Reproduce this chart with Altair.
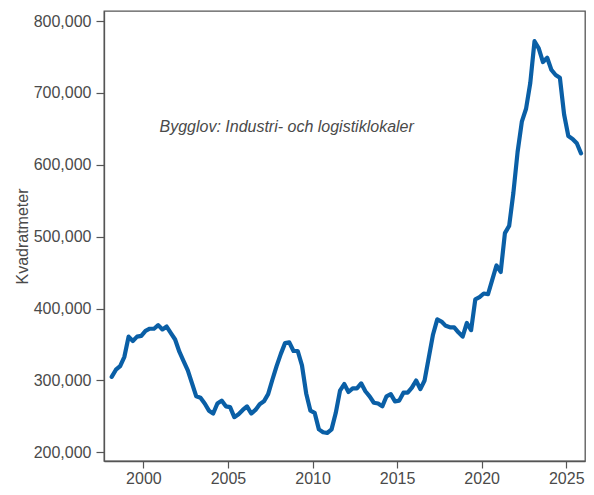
import altair as alt
import pandas as pd

years = list(range(1998, 2026))
quarters = [1, 2, 3, 4]

# Quarterly values (kvadratmeter), 1998Q1 .. 2025Q4
values = [
    305000, 315000, 320000, 333000,
    361000, 355000, 361000, 362000,
    369000, 372000, 372000, 377000,
    371000, 375000, 366000, 357000,
    340000, 327000, 314000, 296000,
    278000, 276000, 268000, 258000,
    254000, 268000, 272000, 264000,
    263000, 249000, 253000, 259000,
    264000, 254000, 259000, 267000,
    271000, 281000, 301000, 320000,
    337000, 352000, 353000, 341000,
    341000, 321000, 282000, 258000,
    255000, 232000, 228000, 227000,
    232000, 255000, 286000, 295000,
    284000, 289000, 289000, 296000,
    285000, 278000, 269000, 268000,
    264000, 278000, 281000, 271000,
    272000, 283000, 283000, 290000,
    300000, 288000, 300000, 332000,
    364000, 385000, 382000, 376000,
    374000, 374000, 367000, 361000,
    380000, 370000, 413000, 416000,
    421000, 420000, 440000, 460000,
    451000, 505000, 515000, 561000,
    618000, 660000, 678000, 714000,
    772000, 762000, 743000, 749000,
    732000, 725000, 721000, 670000,
    640000, 636000, 630000, 616000,
]

y_ticks = [200000, 300000, 400000, 500000, 600000, 700000, 800000]
x_ticks = [2000, 2005, 2010, 2015, 2020, 2025]
annotation = "Bygglov: Industri- och logistiklokaler"
annot_x = 2000.95
annot_y = 645000

rows = []
i = 0
for yr in years:
    for q in quarters:
        rows.append({"t": yr + (q - 0.5) / 4, "v": values[i]})
        i += 1
df = pd.DataFrame(rows)

FONT = "Liberation Sans"
GRAY = "#4a4a4a"

x_enc = alt.X(
    "t:Q",
    scale=alt.Scale(domain=[1997.67, 2026.11], nice=False, zero=False),
    axis=alt.Axis(values=x_ticks, format="d", title=None, grid=False, labelPadding=2, tickSize=7),
)
y_enc = alt.Y(
    "v:Q",
    scale=alt.Scale(domain=[188000, 814000], nice=False, zero=False),
    axis=alt.Axis(values=y_ticks, format=",d", title="Kvadratmeter", grid=False, labelPadding=5, tickSize=8),
)

line = alt.Chart(df).mark_line(color="#0a5fa6", strokeWidth=4.2, strokeJoin="round", strokeCap="round").encode(
    x=x_enc, y=y_enc
)

text = alt.Chart(pd.DataFrame({"t": [annot_x], "v": [annot_y], "s": [annotation]})).mark_text(
    align="left", baseline="alphabetic", fontStyle="italic", fontSize=16, font=FONT, color=GRAY
).encode(x="t:Q", y="v:Q", text="s:N")

chart = (
    alt.layer(line, text)
    .properties(
        width=481,
        height=450,
        autosize=alt.AutoSizeParams(type="none"),
        padding={"left": 96, "top": 3, "right": 1, "bottom": 26},
    )
    .configure_view(stroke="#555555", strokeWidth=1.3)
    .configure_axis(
        labelFont=FONT,
        labelFontSize=16,
        labelColor=GRAY,
        titleFont=FONT,
        titleFontSize=16,
        titleColor=GRAY,
        titleFontWeight="normal",
        domainColor="#555555",
        domainWidth=1.3,
        tickColor="#555555",
        tickWidth=1.2,
    )
    .configure_axisY(titlePadding=3)
)

chart.save("out.html", embed_options={"renderer": "svg", "actions": False})
